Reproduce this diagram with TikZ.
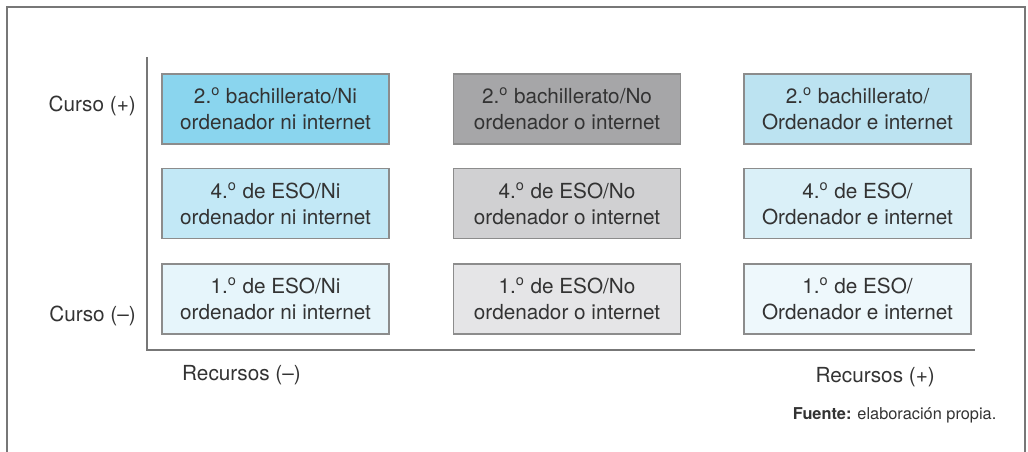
\documentclass[tikz,border=0pt]{standalone}
\usepackage{fontspec}
\setmainfont{TeX Gyre Heros}

\definecolor{txtgray}{HTML}{333333}
\definecolor{linegray}{HTML}{777777}
\definecolor{boxgray}{HTML}{8C8C8C}
% Fills, columns: Ni / No / Ordenador
\definecolor{niA}{HTML}{8AD5EE}
\definecolor{niB}{HTML}{C2E8F6}
\definecolor{niC}{HTML}{E6F5FB}
\definecolor{noA}{HTML}{A6A6A8}
\definecolor{noB}{HTML}{D0D0D2}
\definecolor{noC}{HTML}{E5E5E7}
\definecolor{siA}{HTML}{BCE3F1}
\definecolor{siB}{HTML}{DAF0F8}
\definecolor{siC}{HTML}{EEF8FC}

\begin{document}
\begin{tikzpicture}[
    every node/.style={text=txtgray, font=\fontsize{11.8}{14.8}\selectfont},
    cell/.style={draw=boxgray, line width=0.7pt, minimum width=\w cm,
        minimum height=\h cm, align=center, inner sep=0pt}
]

% Define box size
\def\w{4.54}
\def\h{1.4}

\useasboundingbox (0,0) rectangle (20.56,-9.04);

% ===== Frame =====
\draw[linegray, line width=0.8pt] (0.14,-9.04) -- (0.14,-0.14) -- (20.5,-0.14) -- (20.5,-9.04);

% ===== Axes =====
\coordinate (ytop) at (2.94,-1.14);
\coordinate (orig) at (2.94,-7.0);
\coordinate (xend) at (19.5,-7.0);
\draw[linegray, line width=0.8pt] (ytop) -- (orig) -- (xend);

% ===== Column 1: Ni ordenador ni internet =====
\node[cell, fill=niA] (ni2) at (5.51,-2.18) {2.\textsuperscript{o} bachillerato/Ni\\ordenador ni internet};
\node[cell, fill=niB] (ni4) at (5.51,-4.07) {4.\textsuperscript{o} de ESO/Ni\\ordenador ni internet};
\node[cell, fill=niC] (ni1) at (5.51,-5.98) {1.\textsuperscript{o} de ESO/Ni\\ordenador ni internet};

% ===== Column 2: No ordenador o internet =====
\node[cell, fill=noA] (no2) at (11.34,-2.18) {2.\textsuperscript{o} bachillerato/No\\ordenador o internet};
\node[cell, fill=noB] (no4) at (11.34,-4.07) {4.\textsuperscript{o} de ESO/No\\ordenador o internet};
\node[cell, fill=noC] (no1) at (11.34,-5.98) {1.\textsuperscript{o} de ESO/No\\ordenador o internet};

% ===== Column 3: Ordenador e internet =====
\node[cell, fill=siA] (si2) at (17.15,-2.18) {2.\textsuperscript{o} bachillerato/\\Ordenador e internet};
\node[cell, fill=siB] (si4) at (17.15,-4.07) {4.\textsuperscript{o} de ESO/\\Ordenador e internet};
\node[cell, fill=siC] (si1) at (17.15,-5.98) {1.\textsuperscript{o} de ESO/\\Ordenador e internet};

% Axis labels
\node[anchor=east] (cmas) at (2.84,-2.12) {Curso (+)};
\node[anchor=east] (cmenos) at (2.84,-6.32) {Curso (--)};
\node[anchor=west] (rmenos) at (3.52,-7.5) {Recursos (--)};
\node[anchor=east] (rmas) at (18.82,-7.54) {Recursos (+)};

% Source
\node[anchor=east, font=\fontsize{9.3}{11}\selectfont] (fuente) at (20.05,-8.3) {\textbf{Fuente:} elaboración propia.};

\end{tikzpicture}
\end{document}
